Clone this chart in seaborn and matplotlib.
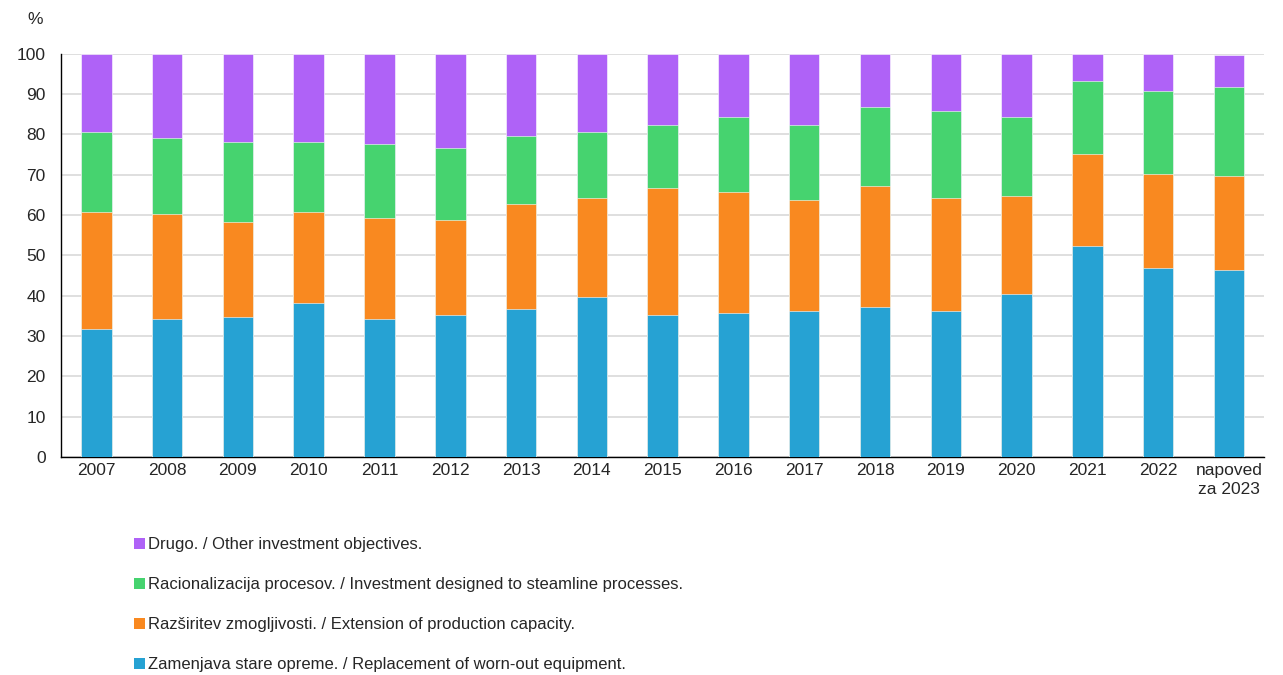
import numpy as np
import pandas as pd
import matplotlib
matplotlib.use('Agg')
import matplotlib.pyplot as plt
from matplotlib.patches import Patch
import seaborn as sns

# Data (shares in %)
years = ['2007', '2008', '2009', '2010', '2011', '2012', '2013', '2014', '2015',
         '2016', '2017', '2018', '2019', '2020', '2021', '2022', 'napoved\nza 2023']
replacement = [31.8, 34.3, 34.8, 38.3, 34.3, 35.3, 36.8, 39.7, 35.3,
               35.8, 36.3, 37.3, 36.3, 40.3, 52.3, 46.8, 46.3]
extension = [28.9, 25.9, 23.4, 22.4, 24.9, 23.4, 25.9, 24.5, 31.4,
             29.9, 27.4, 29.9, 27.9, 24.4, 22.9, 23.4, 23.4]
rationalisation = [20.0, 19.0, 20.0, 17.5, 18.5, 18.0, 17.0, 16.5, 15.5,
                   18.5, 18.5, 19.5, 21.5, 19.5, 18.0, 20.5, 22.0]
other = [19.3, 20.8, 21.8, 21.8, 22.3, 23.3, 20.3, 19.3, 17.8,
         15.8, 17.8, 13.3, 14.3, 15.8, 6.8, 9.3, 8.0]

labels = ['Zamenjava stare opreme. / Replacement of worn-out equipment.',
          'Razširitev zmogljivosti. / Extension of production capacity.',
          'Racionalizacija procesov. / Investment designed to steamline processes.',
          'Drugo. / Other investment objectives.']
colors = ['#26A2D3', '#F98920', '#46D36F', '#AF62F7']

df = pd.DataFrame({'year': years, 'c1': replacement, 'c2': extension,
                   'c3': rationalisation, 'c4': other})
# cumulative tops for stacking
df['s1'] = df['c1']
df['s2'] = df['s1'] + df['c2']
df['s3'] = df['s2'] + df['c3']
df['s4'] = df['s3'] + df['c4']

sns.set_style('white')
plt.rcParams['font.family'] = ['Liberation Sans', 'DejaVu Sans']

fig = plt.figure(figsize=(12.83, 6.75), dpi=100)
ax = fig.add_axes([0.0475, 0.323, 0.938, 0.5975])

# draw from the top layer down so lower layers cover the upper ones
for col, color in zip(['s4', 's3', 's2', 's1'], colors[::-1]):
    sns.barplot(data=df, x='year', y=col, color=color, width=0.43,
                edgecolor='white', linewidth=0.4, saturation=1, ax=ax, zorder=3)

ax.set_ylim(0, 100)
ax.set_xlim(-0.5, len(years) - 0.5)
ax.set_yticks(np.arange(0, 101, 10))
ax.set_xlabel('')
ax.set_ylabel('')
ax.yaxis.grid(True, color='#D9D9D9', linewidth=1.2, zorder=0)
ax.set_axisbelow(True)

for side in ['top', 'right']:
    ax.spines[side].set_visible(False)
for side in ['left', 'bottom']:
    ax.spines[side].set_color('black')
    ax.spines[side].set_linewidth(1.0)

ax.tick_params(axis='y', which='major', direction='out', length=5, width=1,
               color='black', labelsize=12.5, pad=6)
ax.tick_params(axis='x', which='major', length=0, labelsize=12.5, pad=4)
ax.set_xticks(np.arange(-0.5, len(years), 1), minor=True)
ax.tick_params(axis='x', which='minor', direction='out', length=5, width=1, color='black')
ax.set_xticklabels(years, linespacing=1.35)

fig.text(35 / 1283, 1 - 20 / 675, '%', fontsize=12.5, ha='center', va='center')

handles = [Patch(facecolor=c, edgecolor='none') for c in colors[::-1]]
fig.legend(handles, labels[::-1], loc='upper left',
           bbox_to_anchor=(134 / 1283, 1 - 537 / 675), frameon=False,
           fontsize=12, labelspacing=1.5, handlelength=0.65, handleheight=0.65,
           handletextpad=0.2, borderpad=0, borderaxespad=0)

fig.savefig('out.png', dpi=100)
